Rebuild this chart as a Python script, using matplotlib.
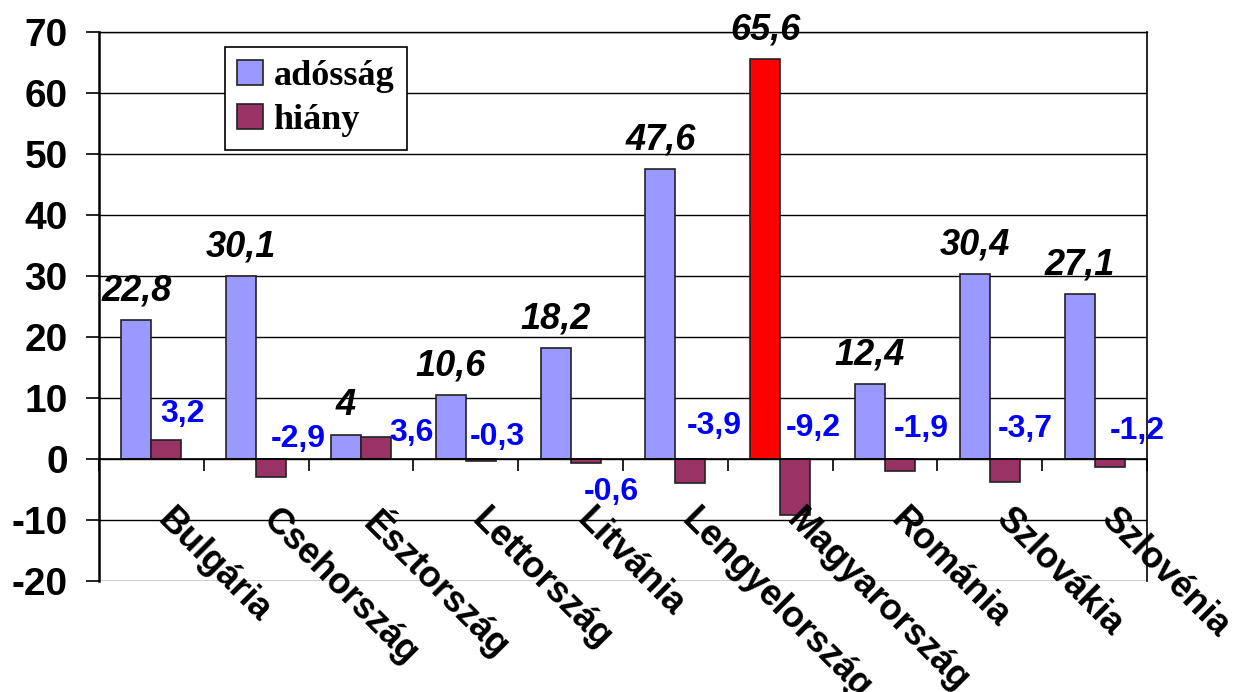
import numpy as np
import matplotlib
matplotlib.use("Agg")
from matplotlib import pyplot as plt
from matplotlib.patches import Patch

countries = ['Bulgária', 'Csehország', 'Észtország', 'Lettország', 'Litvánia',
             'Lengyelország', 'Magyarország', 'Románia', 'Szlovákia', 'Szlovénia']
adossag = [22.8, 30.1, 4, 10.6, 18.2, 47.6, 65.6, 12.4, 30.4, 27.1]
hiany = [3.2, -2.9, 3.6, -0.3, -0.6, -3.9, -9.2, -1.9, -3.7, -1.2]
highlight = 'Magyarország'

# hand placed blue labels in the original (x inside the group, y in data units)
hiany_lbl_x = [0.80, 0.90, 0.98, 0.80, 0.89, 0.87, 0.82, 0.85, 0.84, 0.91]
hiany_lbl_y = [7.5, 3.3, 4.3, 3.6, -5.4, 5.4, 5.2, 4.9, 4.9, 4.6]

plt.rcParams['font.family'] = ['Liberation Sans', 'DejaVu Sans']
plt.rcParams['font.weight'] = 'bold'
plt.rcParams['axes.unicode_minus'] = False


def fmt(v):
    return f"{v:g}".replace('.', ',')


fig = plt.figure(figsize=(12.37, 6.92), dpi=100)
ax = fig.add_axes([0.080, 0.160, 0.8472, 0.7934])

x = np.arange(len(countries)) + 0.5
w = 0.286
col_a = ['#FF0000' if c == highlight else '#9999FF' for c in countries]
ax.bar(x - w / 2, adossag, w, color=col_a, edgecolor='#222222', linewidth=1.2, zorder=3)
ax.bar(x + w / 2, hiany, w, color='#993366', edgecolor='#222222', linewidth=1.2, zorder=3)

# black italic labels over the debt bars
for xi, v in zip(x, adossag):
    ax.annotate(fmt(v), (xi - w / 2, v), xytext=(0, 14), textcoords='offset points',
                ha='center', va='baseline', fontsize=26, fontstyle='italic',
                fontweight='bold', color='black', zorder=5)

# blue deficit labels
for i, v in enumerate(hiany):
    ax.text(i + hiany_lbl_x[i], hiany_lbl_y[i], fmt(v), ha='center', va='center',
            fontsize=23, fontweight='bold', color='#0000FF', zorder=5)

# rotated country names
for i, c in enumerate(countries):
    ax.text(i + 0.73, -7.0, c, rotation=-45, rotation_mode='anchor',
            ha='left', va='top', fontsize=26, fontweight='bold', color='black')

ax.set_xlim(0, len(countries))
ax.set_ylim(-20, 70)
ax.set_yticks(np.arange(-20, 71, 10))
ax.set_xticks(np.arange(0, len(countries) + 1))
ax.set_xticklabels([])
ax.yaxis.grid(True, color='black', linewidth=1, zorder=0)
ax.set_axisbelow(True)

ax.spines['bottom'].set_position(('data', 0))
ax.spines['bottom'].set_linewidth(1.2)
ax.spines['left'].set_linewidth(1.8)
ax.spines['right'].set_linewidth(1.2)
ax.spines['top'].set_linewidth(1.0)
for s in ax.spines.values():
    s.set_color('black')
ax.spines['bottom'].set_zorder(4)

ax.tick_params(axis='y', direction='out', length=9.4, width=1.2, pad=13,
               labelsize=28)
ax.tick_params(axis='x', direction='out', length=8.5, width=1.2)
for t in ax.get_yticklabels():
    t.set_fontweight('bold')

handles = [Patch(facecolor='#9999FF', edgecolor='#222222', linewidth=1.2),
           Patch(facecolor='#993366', edgecolor='#222222', linewidth=1.2)]
leg = ax.legend(handles, ['adósság', 'hiány'], loc='upper left',
                bbox_to_anchor=(0.120, 0.973), borderaxespad=0, fancybox=False,
                framealpha=1, edgecolor='black', handlelength=0.7, handleheight=0.7,
                handletextpad=0.3, labelspacing=0.3, borderpad=0.35,
                prop={'family': 'Liberation Serif', 'weight': 'bold', 'size': 26})
leg.get_frame().set_linewidth(1.2)
leg.set_zorder(6)

fig.savefig('out.png', dpi=100)
